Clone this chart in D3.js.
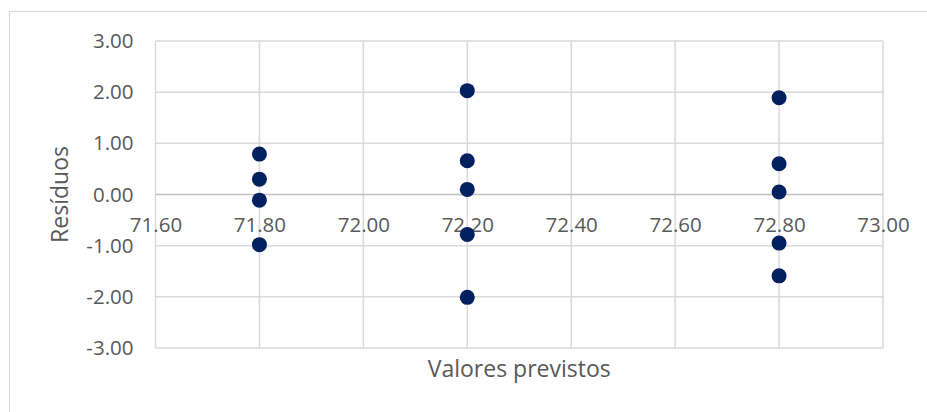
<!DOCTYPE html>
<html>
<head>
<meta charset="utf-8">
<script src="https://cdn.jsdelivr.net/npm/d3@7"></script>
<style>
  html, body { margin: 0; padding: 0; background: #fff; }
  svg { display: block; }
  text { font-family: "Open Sans", "Liberation Sans", sans-serif; fill: #595959; }
</style>
</head>
<body>
<svg id="chart" width="927" height="412"></svg>
<script>
// Predicted values (x) and their residuals (y)
const previstos = [71.8, 71.8, 71.8, 71.8,
                   72.2, 72.2, 72.2, 72.2, 72.2,
                   72.8, 72.8, 72.8, 72.8, 72.8];
const residuos  = [0.79, 0.30, -0.11, -0.98,
                   2.03, 0.66, 0.10, -0.78, -2.01,
                   1.89, 0.60, 0.05, -0.95, -1.59];
const xTicks = [71.6, 71.8, 72.0, 72.2, 72.4, 72.6, 72.8, 73.0];
const yTicks = [-3, -2, -1, 0, 1, 2, 3];
const xTitle = "Valores previstos";
const yTitle = "Resíduos";

const svg = d3.select("#chart");
const plot = { left: 155.5, right: 883, top: 41, bottom: 348 };

const x = d3.scaleLinear().domain([71.6, 73.0]).range([plot.left, plot.right]);
const y = d3.scaleLinear().domain([-3, 3]).range([plot.bottom, plot.top]);
// two decimals, plain hyphen for negatives
const fmt = d => d3.format(".2f")(d).replace("\u2212", "-");
const fontFamily = '"Open Sans", "Liberation Sans", sans-serif';

// chart area border (continues past the right and bottom edges)
svg.append("rect")
  .attr("x", 9.5).attr("y", 11.5)
  .attr("width", 940).attr("height", 420)
  .attr("fill", "none").attr("stroke", "#d9d9d9").attr("stroke-width", 1.2);

// vertical gridlines
svg.append("g")
  .selectAll("line").data(xTicks).join("line")
  .attr("x1", d => x(d)).attr("x2", d => x(d))
  .attr("y1", plot.top).attr("y2", plot.bottom)
  .attr("stroke", "#d9d9d9").attr("stroke-width", 1.5);

// horizontal gridlines (zero line drawn darker)
svg.append("g")
  .selectAll("line").data(yTicks).join("line")
  .attr("x1", plot.left).attr("x2", plot.right)
  .attr("y1", d => y(d)).attr("y2", d => y(d))
  .attr("stroke", d => d === 0 ? "#bfbfbf" : "#d9d9d9")
  .attr("stroke-width", 1.5);

// y axis labels
const yAxis = d3.axisLeft(y).tickValues(yTicks).tickFormat(fmt).tickSize(0).tickPadding(22);
const gy = svg.append("g").attr("transform", `translate(${plot.left},0)`).call(yAxis);
gy.select(".domain").remove();
gy.selectAll("text").attr("font-size", 20.5).attr("fill", "#595959")
  .style("font-family", fontFamily);

// x axis labels, placed along the zero line
const xAxis = d3.axisBottom(x).tickValues(xTicks).tickFormat(fmt).tickSize(0).tickPadding(23);
const gx = svg.append("g").attr("transform", `translate(0,${y(0)})`).call(xAxis);
gx.select(".domain").remove();
gx.selectAll("text").attr("font-size", 20.5).attr("fill", "#595959")
  .style("font-family", fontFamily);

// points
svg.append("g")
  .selectAll("circle").data(previstos.map((p, i) => [p, residuos[i]])).join("circle")
  .attr("cx", d => x(d[0])).attr("cy", d => y(d[1]))
  .attr("r", 7.5).attr("fill", "#002060");

// axis titles
svg.append("text")
  .attr("x", (plot.left + plot.right) / 2).attr("y", 377)
  .attr("text-anchor", "middle").attr("font-size", 23)
  .text(xTitle);

svg.append("text")
  .attr("transform", `translate(68,${(plot.top + plot.bottom) / 2}) rotate(-90)`)
  .attr("text-anchor", "middle").attr("font-size", 23)
  .text(yTitle);
</script>
</body>
</html>
